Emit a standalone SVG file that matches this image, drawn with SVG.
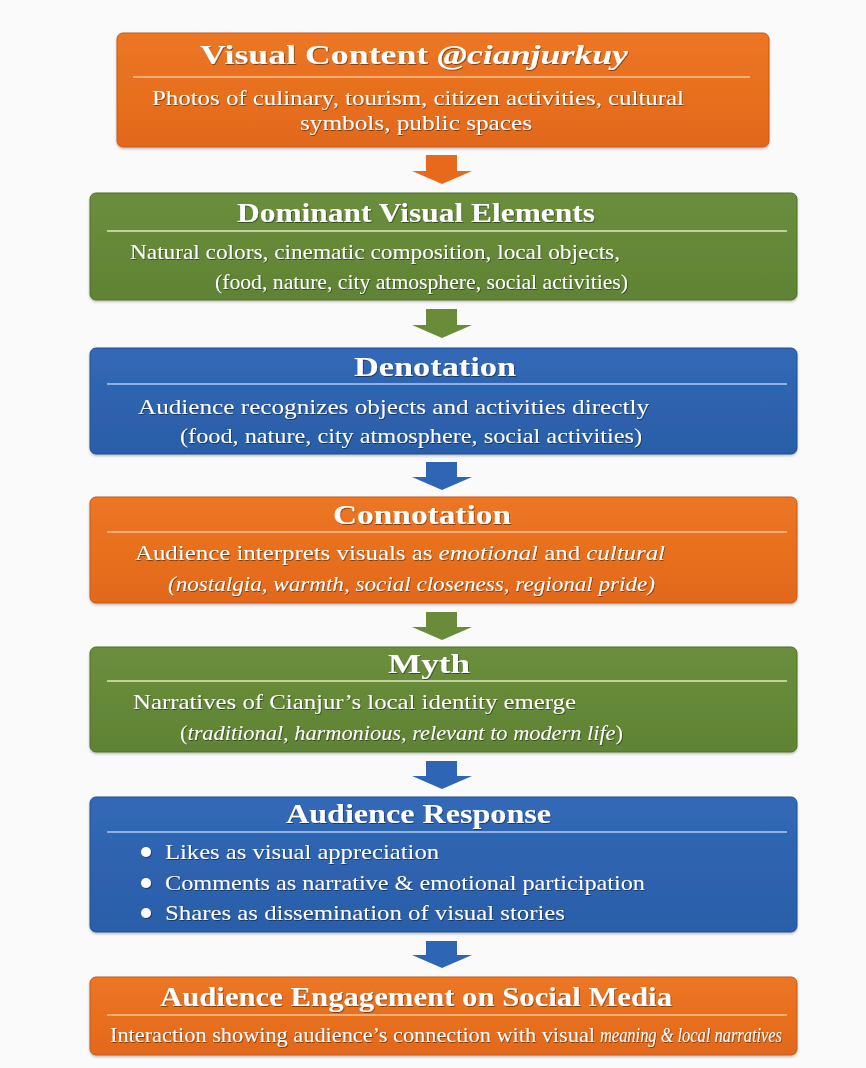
<svg xmlns="http://www.w3.org/2000/svg" width="866" height="1068" viewBox="0 0 866 1068">
  <defs>
    <linearGradient id="gOrange" x1="0" y1="0" x2="0" y2="1">
      <stop offset="0" stop-color="#EC7623"/>
      <stop offset="1" stop-color="#E2691B"/>
    </linearGradient>
    <linearGradient id="gGreen" x1="0" y1="0" x2="0" y2="1">
      <stop offset="0" stop-color="#6B8E3D"/>
      <stop offset="1" stop-color="#608334"/>
    </linearGradient>
    <linearGradient id="gBlue" x1="0" y1="0" x2="0" y2="1">
      <stop offset="0" stop-color="#3169B6"/>
      <stop offset="1" stop-color="#2B5DA8"/>
    </linearGradient>
    <filter id="tsh" x="-5%" y="-30%" width="110%" height="160%">
      <feDropShadow dx="0.8" dy="1" stdDeviation="0.6" flood-color="#000" flood-opacity="0.45"/>
    </filter>
    <filter id="bsh" x="-5%" y="-10%" width="110%" height="125%">
      <feDropShadow dx="0" dy="1.5" stdDeviation="1.2" flood-color="#000" flood-opacity="0.25"/>
    </filter>
  </defs>
  <style>
    .box { filter: url(#bsh); }
    .orange { fill: url(#gOrange); stroke: #C9561A; stroke-width: 1; }
    .green { fill: url(#gGreen); stroke: #4E6E2A; stroke-width: 1; }
    .blue { fill: url(#gBlue); stroke: #224E90; stroke-width: 1; }
    .title { font-family: "Liberation Serif", "DejaVu Serif", serif; font-weight: bold; font-size: 28px; fill: #FFFFFF; filter: url(#tsh); }
    .body { font-family: "Liberation Serif", "DejaVu Serif", serif; font-size: 21px; fill: #FFFFFF; filter: url(#tsh); }
    .it { font-style: italic; }
    .up { font-style: normal; }
    .sepO { stroke: #F7C58F; stroke-width: 1.5; }
    .sepG { stroke: #DCE7BE; stroke-width: 1.5; }
    .sepB { stroke: #AFC9EC; stroke-width: 1.5; }
    .aO { fill: #E8691C; }
    .aG { fill: #6A8C3A; }
    .aB { fill: #2F65B5; }
    .bullet { fill: #FFFFFF; filter: url(#tsh); }
  </style>
  <rect width="866" height="1068" fill="#FAFAFA"/>

  <g id="connectors">
    <polygon class="aO" points="426,155 457,155 457,171 472,171 442,184 412,171 426,171"/>
    <polygon class="aG" points="426,309 457,309 457,325 472,325 442,338 412,325 426,325"/>
    <polygon class="aB" points="426,462 457,462 457,477 472,477 442,490 412,477 426,477"/>
    <polygon class="aG" points="426,612 457,612 457,627 472,627 442,640 412,627 426,627"/>
    <polygon class="aB" points="426,761 457,761 457,776 472,776 442,789 412,776 426,776"/>
    <polygon class="aB" points="426,941 457,941 457,955 472,955 442,968 412,955 426,955"/>
  </g>

  <g id="visual-content">
    <rect class="box orange" x="117" y="33" width="652" height="114" rx="6"/>
    <line class="sepO" x1="133" y1="77" x2="750" y2="77"/>
    <text class="title" x="200" y="64" textLength="428" lengthAdjust="spacingAndGlyphs">Visual Content <tspan class="it">@cianjurkuy</tspan></text>
    <text class="body" x="152" y="105" textLength="532" lengthAdjust="spacingAndGlyphs">Photos of culinary, tourism, citizen activities, cultural</text>
    <text class="body" x="300" y="130" textLength="232" lengthAdjust="spacingAndGlyphs">symbols, public spaces</text>
  </g>

  <g id="dominant-visual-elements">
    <rect class="box green" x="90" y="193" width="707" height="107" rx="6"/>
    <line class="sepG" x1="107" y1="231" x2="787" y2="231"/>
    <text class="title" x="237" y="222" textLength="358" lengthAdjust="spacingAndGlyphs">Dominant Visual Elements</text>
    <text class="body" x="130" y="259" textLength="490" lengthAdjust="spacingAndGlyphs">Natural colors, cinematic composition, local objects,</text>
    <text class="body" x="215" y="289" textLength="413" lengthAdjust="spacingAndGlyphs">(food, nature, city atmosphere, social activities)</text>
  </g>

  <g id="denotation">
    <rect class="box blue" x="90" y="348" width="707" height="106" rx="6"/>
    <line class="sepB" x1="107" y1="384" x2="787" y2="384"/>
    <text class="title" x="354" y="376" textLength="162" lengthAdjust="spacingAndGlyphs">Denotation</text>
    <text class="body" x="138" y="414" textLength="511" lengthAdjust="spacingAndGlyphs">Audience recognizes objects and activities directly</text>
    <text class="body" x="180" y="443" textLength="462" lengthAdjust="spacingAndGlyphs">(food, nature, city atmosphere, social activities)</text>
  </g>

  <g id="connotation">
    <rect class="box orange" x="90" y="497" width="707" height="106" rx="6"/>
    <line class="sepO" x1="107" y1="532" x2="787" y2="532"/>
    <text class="title" x="333" y="524" textLength="178" lengthAdjust="spacingAndGlyphs">Connotation</text>
    <text class="body" x="135" y="560" textLength="530" lengthAdjust="spacingAndGlyphs">Audience interprets visuals as <tspan class="it">emotional</tspan> and <tspan class="it">cultural</tspan></text>
    <text class="body it" x="168" y="591" textLength="487" lengthAdjust="spacingAndGlyphs">(nostalgia, warmth, social closeness, regional pride)</text>
  </g>

  <g id="myth">
    <rect class="box green" x="90" y="647" width="707" height="105" rx="6"/>
    <line class="sepG" x1="107" y1="681" x2="787" y2="681"/>
    <text class="title" x="388" y="673" textLength="82" lengthAdjust="spacingAndGlyphs">Myth</text>
    <text class="body" x="133" y="709" textLength="443" lengthAdjust="spacingAndGlyphs">Narratives of Cianjur’s local identity emerge</text>
    <text class="body it" x="180" y="740" textLength="443" lengthAdjust="spacingAndGlyphs"><tspan class="up">(</tspan>traditional, harmonious, relevant to modern life<tspan class="up">)</tspan></text>
  </g>

  <g id="audience-response">
    <rect class="box blue" x="90" y="797" width="707" height="135" rx="6"/>
    <line class="sepB" x1="107" y1="832" x2="787" y2="832"/>
    <text class="title" x="286" y="823" textLength="265" lengthAdjust="spacingAndGlyphs">Audience Response</text>
    <circle class="bullet" cx="146" cy="852" r="5"/>
    <circle class="bullet" cx="146" cy="883" r="5"/>
    <circle class="bullet" cx="146" cy="913" r="5"/>
    <text class="body" x="165" y="859" textLength="274" lengthAdjust="spacingAndGlyphs">Likes as visual appreciation</text>
    <text class="body" x="165" y="890" textLength="480" lengthAdjust="spacingAndGlyphs">Comments as narrative &amp; emotional participation</text>
    <text class="body" x="165" y="920" textLength="400" lengthAdjust="spacingAndGlyphs">Shares as dissemination of visual stories</text>
  </g>

  <g id="audience-engagement">
    <rect class="box orange" x="90" y="977" width="707" height="78" rx="6"/>
    <line class="sepO" x1="107" y1="1015" x2="787" y2="1015"/>
    <text class="title" x="160" y="1006" textLength="512" lengthAdjust="spacingAndGlyphs">Audience Engagement on Social Media</text>
    <text class="body" x="110" y="1042" textLength="485" lengthAdjust="spacingAndGlyphs">Interaction showing audience’s connection with visual</text>
    <text class="body it" x="600" y="1042" font-size="17" textLength="182" lengthAdjust="spacingAndGlyphs">meaning &amp; local narratives</text>
  </g>
</svg>
